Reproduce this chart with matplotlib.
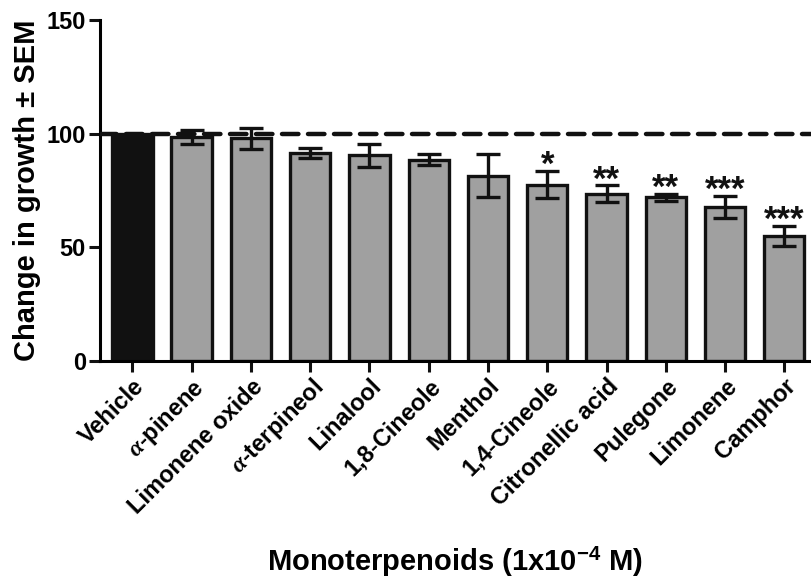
import matplotlib
matplotlib.use("Agg")
import matplotlib.pyplot as plt

plt.rcParams['font.family'] = ['Liberation Sans', 'DejaVu Sans']
plt.rcParams['font.weight'] = 'bold'
plt.rcParams['mathtext.fontset'] = 'custom'
plt.rcParams['mathtext.rm'] = 'Liberation Sans:bold'
plt.rcParams['mathtext.bf'] = 'Liberation Sans:bold'
plt.rcParams['mathtext.it'] = 'Liberation Serif:italic'

categories = ["Vehicle", r"$\alpha$-pinene", "Limonene oxide", r"$\alpha$-terpineol",
              "Linalool", "1,8-Cineole", "Menthol", "1,4-Cineole",
              "Citronellic acid", "Pulegone", "Limonene", "Camphor"]
growth = [100, 98.5, 98, 91.5, 90.5, 88.5, 81.5, 77.5, 73.5, 72, 67.6, 55]
sem = [0, 3.2, 4.6, 2.1, 5.1, 2.4, 9.4, 6.0, 3.7, 1.5, 4.8, 4.4]
signif = ["", "", "", "", "", "", "", "*", "**", "**", "***", "***"]
colors = ["#111111"] + ["#a0a0a0"] * 11

fig = plt.figure(figsize=(8.11, 5.83), dpi=100)
ax = fig.add_axes([0.123, 0.381, 0.877, 0.585])

x = list(range(len(categories)))
ax.bar(x, growth, width=0.68, color=colors, edgecolor="#111111", linewidth=2.4, zorder=2)
ax.errorbar(x[1:], growth[1:], yerr=sem[1:], fmt="none", ecolor="#111111",
            elinewidth=2.4, capsize=8.5, capthick=2.4, zorder=3)
ax.axhline(100, color="#111111", lw=3.2, linestyle=(0, (3.7, 2.15)), zorder=4,
           dash_capstyle="round")

# significance stars sit just above the upper whisker
for xi, g, s, lab in zip(x, growth, sem, signif):
    if lab:
        ax.text(xi, g + s - 1.8, lab, ha="center", va="baseline", fontsize=25,
                fontweight="bold", color="#111111", zorder=5)

ax.set_xlim(-0.55, 11.45)
ax.set_ylim(0, 150)
ax.set_yticks([0, 50, 100, 150])
ax.set_xticks(x)
ax.set_xticklabels(categories, rotation=45, ha="right", rotation_mode="anchor",
                   fontsize=17, fontweight="bold")
for t in ax.get_yticklabels():
    t.set_fontsize(17)
    t.set_fontweight("bold")

ax.spines["top"].set_visible(False)
ax.spines["right"].set_visible(False)
ax.spines["left"].set_linewidth(2.2)
ax.spines["bottom"].set_linewidth(2.2)
ax.tick_params(axis="both", width=2.2, length=8, color="#111111", pad=2)

ax.set_ylabel("Change in growth \u00b1 SEM", fontsize=21, fontweight="bold", labelpad=4)
ax.set_xlabel(r"Monoterpenoids (1x10$^{\mathbf{-4}}$ M)", fontsize=21,
              fontweight="bold")
ax.xaxis.set_label_coords(0.5, -0.589)
ax.xaxis.label.set_va("center")

fig.savefig("out.png", dpi=100)
